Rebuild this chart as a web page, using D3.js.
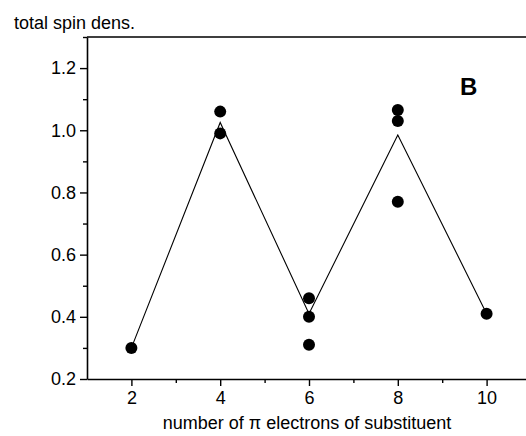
<!DOCTYPE html>
<html>
<head>
<meta charset="utf-8">
<script src="https://cdn.jsdelivr.net/npm/d3@7"></script>
<style>
  html, body { margin: 0; padding: 0; background: #fff; overflow: hidden; }
  svg { display: block; font-family: Arial, "Liberation Sans", sans-serif; }
</style>
</head>
<body>
<svg id="chart" width="526" height="436"></svg>
<script>
// Data
const pointX = [2, 4, 4, 6, 6, 6, 8, 8, 8, 10];
const pointY = [0.30, 1.06, 0.99, 0.46, 0.40, 0.31, 1.065, 1.03, 0.77, 0.41];
const lineX = [2, 4, 6, 8, 10];
const lineY = [0.30, 1.025, 0.41, 0.985, 0.41];
const xMajorTicks = [2, 4, 6, 8, 10];
const xMinorTicks = [3, 5, 7, 9];
const yMajorTicks = [0.2, 0.4, 0.6, 0.8, 1.0, 1.2];
const yMinorTicks = [0.3, 0.5, 0.7, 0.9, 1.1, 1.3];
const yTitle = "total spin dens.";
const xTitle = "number of π electrons of substituent";
const panelLabel = "B";

const svg = d3.select("#chart");
const mLeft = 87, mRight = 531, mTop = 37, mBottom = 379;

const x = d3.scaleLinear().domain([1, 11]).range([mLeft, mRight]);
const y = d3.scaleLinear().domain([0.2, 1.3]).range([mBottom, mTop]);

// frame (top and right)
svg.append("path")
  .attr("d", `M${mLeft},${mTop}H${mRight}V${mBottom}`)
  .attr("fill", "none").attr("stroke", "#000").attr("stroke-width", 1.6);

// minor ticks
svg.append("g").attr("transform", `translate(0,${mBottom})`)
  .call(d3.axisBottom(x).tickValues(xMinorTicks).tickSize(4).tickFormat(""))
  .call(g => g.select(".domain").remove())
  .selectAll("line").attr("stroke-width", 1.4);
svg.append("g").attr("transform", `translate(${mLeft},0)`)
  .call(d3.axisLeft(y).tickValues(yMinorTicks).tickSize(4).tickFormat(""))
  .call(g => g.select(".domain").remove())
  .selectAll("line").attr("stroke-width", 1.4);

// major axes
const xAxis = svg.append("g").attr("transform", `translate(0,${mBottom})`)
  .call(d3.axisBottom(x).tickValues(xMajorTicks).tickSize(7).tickPadding(5).tickSizeOuter(0).tickFormat(d3.format("d")));
const yAxis = svg.append("g").attr("transform", `translate(${mLeft},0)`)
  .call(d3.axisLeft(y).tickValues(yMajorTicks).tickSize(7).tickPadding(4).tickSizeOuter(0).tickFormat(d3.format(".1f")));
[xAxis, yAxis].forEach(a => {
  a.select(".domain").attr("stroke-width", 1.6);
  a.selectAll(".tick line").attr("stroke-width", 1.4);
  a.selectAll("text").attr("font-size", 18).attr("fill", "#000")
    .attr("font-family", "Arial, 'Liberation Sans', sans-serif");
});

// line
const lineGen = d3.line().x(d => x(d[0])).y(d => y(d[1]));
svg.append("path")
  .datum(lineX.map((v, i) => [v, lineY[i]]))
  .attr("d", lineGen)
  .attr("fill", "none").attr("stroke", "#000").attr("stroke-width", 1.1);

// points
svg.append("g").selectAll("circle")
  .data(pointX.map((v, i) => [v, pointY[i]]))
  .join("circle")
  .attr("cx", d => x(d[0])).attr("cy", d => y(d[1]))
  .attr("r", 6).attr("fill", "#000");

// texts
svg.append("text").attr("x", 14).attr("y", 29)
  .attr("font-size", 18).text(yTitle);
svg.append("text").attr("x", (x(1) + x(11)) / 2 - 2).attr("y", 429)
  .attr("text-anchor", "middle").attr("font-size", 18).text(xTitle);
svg.append("text").attr("x", 460).attr("y", 95)
  .attr("font-size", 24).attr("font-weight", "bold").text(panelLabel);
</script>
</body>
</html>
